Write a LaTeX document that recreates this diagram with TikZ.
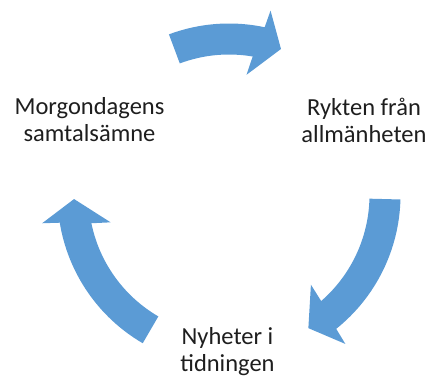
\documentclass[tikz,border=0pt]{standalone}
\usepackage{fontspec}
\setmainfont{Carlito}
\usepackage{xcolor}
\usepackage{tikz}

\definecolor{arrowblue}{RGB}{91,155,213}
\definecolor{labelgrey}{RGB}{30,30,30}

\begin{document}
\begin{tikzpicture}[
                        x=1pt, y=1pt,
                        every node/.style={
                                font=\fontsize{24.5}{27}\selectfont,
                                text=labelgrey,
                                align=center,
                                inner sep=0pt,
                            },
                        cyclearrow/.style={fill=arrowblue},
                    ]

                    \useasboundingbox (0,0) rectangle (432,378);

                    \coordinate (centre) at (229,183);

                    % tail angle / head base angle / tip angle
                    \foreach \tail/\base/\tip in {110.5/79.5/70.4, -1.5/-49.8/-59.2, 239.8/190.8/181.5}{
                            \fill[cyclearrow, shift={(centre)}] (\tail:171.5pt)
                                arc[start angle=\tail, end angle=\base-1.5, radius=171.5pt]
                                -- ({\base-2.2}:189pt) -- (\tip:155pt) -- ({\base+2.2}:121.5pt)
                                -- ({\base+0.8}:140.5pt)
                                arc[start angle=\base+0.8, end angle=\tail, radius=140.5pt] -- cycle;
                        }

                    \node (morgon) at (89.5,258) {Morgondagens\\samtalsämne};
                    \node (rykten) at (364,258) {Rykten från\\allmänheten};
                    \node (nyheter) at (227.5,26.5) {Nyheter i\\tidningen};
                \end{tikzpicture}
\end{document}
